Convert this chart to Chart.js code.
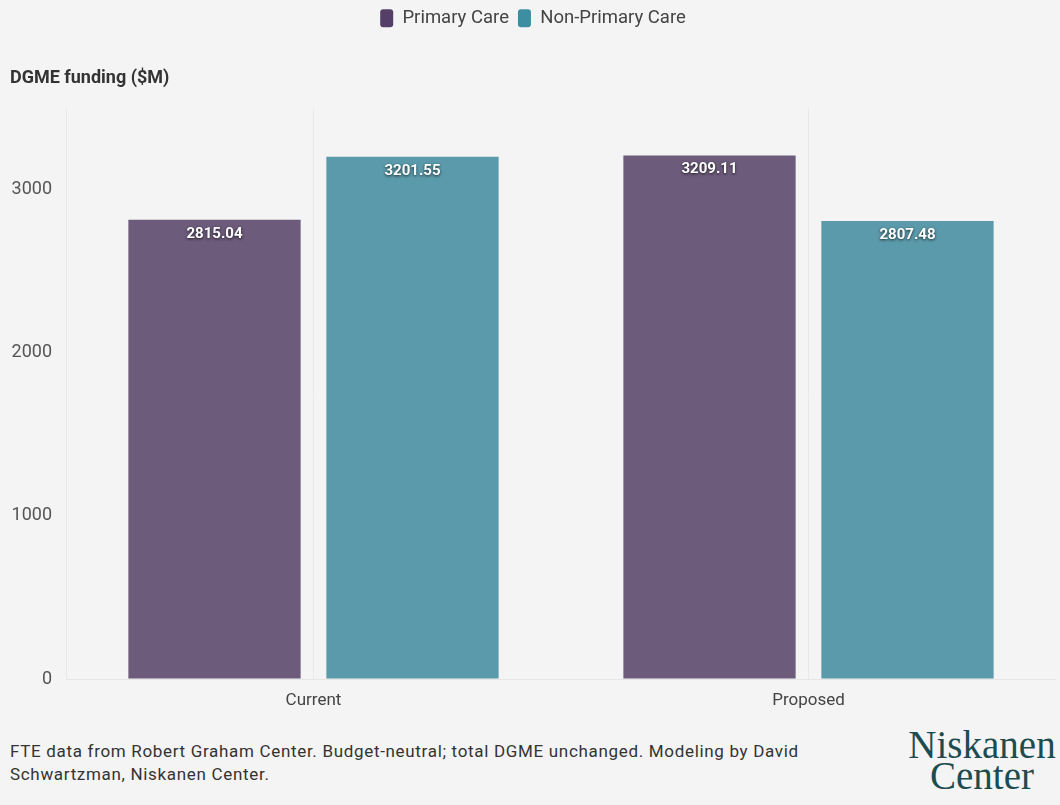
<!DOCTYPE html>
<html>
<head>
<meta charset="utf-8">
<script src="https://cdn.jsdelivr.net/npm/chart.js@4"></script>
<style>
  html, body { margin:0; padding:0; background:#f4f4f4; }
  #wrap { position:relative; width:1060px; height:805px; background:#f4f4f4; overflow:hidden; }
  #chartBox { position:absolute; left:0; top:0; width:1060px; height:720px; }
  #footer { position:absolute; left:10px; top:740px; font-family:Roboto, sans-serif; font-size:17px; line-height:23px; color:#333; letter-spacing:0.68px; }
  #logo { position:absolute; left:895px; top:729px; width:174px; text-align:center; font-family:"Liberation Serif", serif; font-size:39px; line-height:31px; color:#1c4c50; }
</style>
</head>
<body>
<div id="wrap">
  <div id="chartBox"><canvas id="c"></canvas></div>
  <div id="footer">FTE data from Robert Graham Center. Budget-neutral; total DGME unchanged. Modeling by David<br>Schwartzman, Niskanen Center.</div>
  <div id="logo">Niskanen<br>Center</div>
</div>
<script>
const categories = ["Current", "Proposed"];
const seriesNames = ["Primary Care", "Non-Primary Care"];
const primaryCare = [2815.04, 3209.11];
const nonPrimaryCare = [3201.55, 2807.48];
const yTicks = [0, 1000, 2000, 3000];
const titleText = "DGME funding ($M)";

const barColors = ["#6c5b7b", "#5b9aab"];
const legendColors = ["#553e68", "#3e8ea3"];

const valueLabels = {
  id: 'valueLabels',
  afterDatasetsDraw(chart) {
    const ctx = chart.ctx;
    ctx.save();
    ctx.font = 'bold 15px Roboto, sans-serif';
    ctx.textAlign = 'center';
    ctx.textBaseline = 'middle';
    chart.data.datasets.forEach((ds, di) => {
      const meta = chart.getDatasetMeta(di);
      meta.data.forEach((bar, i) => {
        const v = ds.data[i];
        ctx.shadowColor = 'rgba(0,0,0,0.75)';
        ctx.shadowBlur = 3;
        ctx.shadowOffsetX = 0;
        ctx.shadowOffsetY = 1;
        ctx.fillStyle = '#ffffff';
        ctx.fillText(v.toFixed(2), bar.x, bar.y + 14);
      });
    });
    ctx.restore();
  }
};

new Chart(document.getElementById('c'), {
  type: 'bar',
  data: {
    labels: categories,
    datasets: [
      { label: seriesNames[0], data: primaryCare, backgroundColor: barColors[0], borderWidth: 0, categoryPercentage: 0.8, barPercentage: 0.87 },
      { label: seriesNames[1], data: nonPrimaryCare, backgroundColor: barColors[1], borderWidth: 0, categoryPercentage: 0.8, barPercentage: 0.87 }
    ]
  },
  options: {
    responsive: true,
    maintainAspectRatio: false,
    animation: false,
    layout: { padding: { left: 10, right: 4, top: 0, bottom: 0 } },
    plugins: {
      legend: {
        position: 'top',
        weight: 3000,
        labels: {
          font: { family: 'Roboto, sans-serif', size: 18.5 },
          color: '#444',
          boxWidth: 13,
          boxHeight: 18,
          padding: 9,
          generateLabels(chart) {
            return chart.data.datasets.map((ds, i) => ({
              text: ds.label,
              fillStyle: legendColors[i],
              strokeStyle: legendColors[i],
              lineWidth: 0,
              borderRadius: 3,
              hidden: false,
              datasetIndex: i,
              fontColor: '#444'
            }));
          }
        }
      },
      title: {
        display: true,
        text: titleText,
        align: 'start',
        position: 'top',
        weight: 2000,
        color: '#333',
        font: { family: 'Roboto, sans-serif', size: 18, weight: 'bold' },
        padding: { top: 30, bottom: 19 }
      },
      tooltip: { enabled: false }
    },
    scales: {
      x: {
        grid: { display: true, offset: false, color: '#e9e9e9', drawTicks: false },
        border: { display: false },
        ticks: { font: { family: 'Roboto, sans-serif', size: 17 }, color: '#444', padding: 12 },
        afterFit(scale) { scale.height = 41; }
      },
      y: {
        min: 0,
        max: 3500,
        grid: { display: true, color(ctx) { return ctx.tick && ctx.tick.value === 0 ? '#e6e6e6' : 'rgba(0,0,0,0)'; }, drawTicks: false },
        border: { display: true, color: '#e9e9e9' },
        afterBuildTicks(scale) { scale.ticks = yTicks.map(v => ({ value: v })); },
        ticks: {
          font: { family: 'Roboto, sans-serif', size: 18 },
          color: '#555',
          padding: 14,
          callback(value) { return String(value); }
        },
        afterFit(scale) { scale.width = 56; }
      }
    }
  },
  plugins: [valueLabels]
});
</script>
</body>
</html>
